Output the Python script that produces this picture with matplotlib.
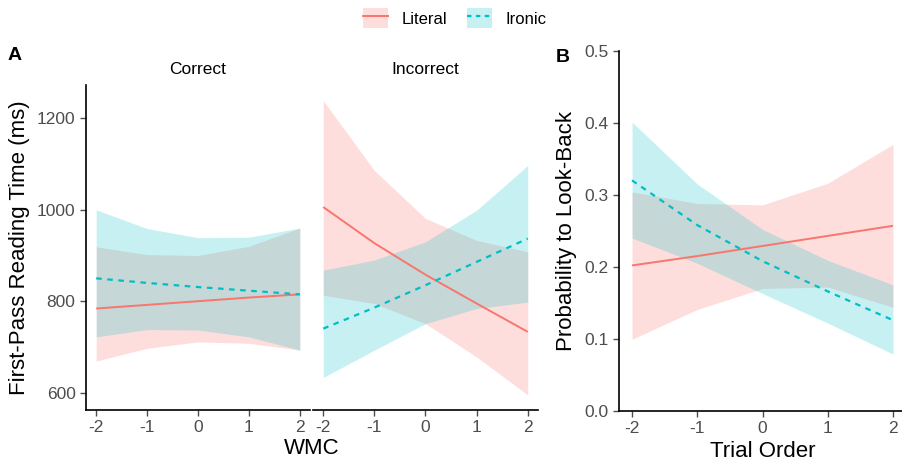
import numpy as np
import matplotlib.pyplot as plt
from matplotlib.patches import Patch
from matplotlib.lines import Line2D

plt.rcParams['font.family'] = ['Liberation Sans', 'DejaVu Sans']

# predictor values
x = [-2, -1, 0, 1, 2]

# Panel A, Correct facet (first-pass reading time, ms)
cor_lit = [784, 792, 800, 808, 815]
cor_lit_lo = [669, 697, 711, 708, 693]
cor_lit_hi = [919, 902, 900, 920, 960]
cor_iro = [850, 840, 831, 823, 815]
cor_iro_lo = [722, 738, 737, 722, 693]
cor_iro_hi = [1000, 959, 939, 940, 960]

# Panel A, Incorrect facet
inc_lit = [1006, 927, 858, 795, 733]
inc_lit_lo = [813, 795, 751, 678, 595]
inc_lit_hi = [1239, 1086, 981, 933, 908]
inc_iro = [740, 786, 835, 886, 937]
inc_iro_lo = [633, 693, 751, 784, 798]
inc_iro_hi = [868, 890, 930, 999, 1097]

# Panel B, probability to look back
b_lit = [0.202, 0.215, 0.229, 0.243, 0.257]
b_lit_lo = [0.0995, 0.141, 0.170, 0.172, 0.144]
b_lit_hi = [0.304, 0.288, 0.286, 0.316, 0.370]
b_iro = [0.320, 0.258, 0.208, 0.166, 0.126]
b_iro_lo = [0.240, 0.205, 0.163, 0.122, 0.079]
b_iro_hi = [0.401, 0.315, 0.252, 0.209, 0.175]

RED = '#F8766D'
TEAL = '#00BFC4'
GREY = '#4D4D4D'

fig = plt.figure(figsize=(9.03, 4.61), dpi=100)
W, H = 903.0, 461.0

def make_ax(l, r, b, t):
    return fig.add_axes([l / W, 1 - b / H, (r - l) / W, (b - t) / H])

ax1 = make_ax(86, 310, 410, 85)
ax2 = make_ax(313, 538, 410, 85)
ax3 = make_ax(619, 906, 411, 50.7)


def draw(ax, lit, lo1, hi1, iro, lo2, hi2):
    ax.fill_between(x, lo1, hi1, color=RED, alpha=0.24, lw=0)
    ax.fill_between(x, lo2, hi2, color=TEAL, alpha=0.22, lw=0)
    ax.plot(x, lit, color=RED, lw=1.4, solid_capstyle='butt')
    ax.plot(x, iro, color=TEAL, lw=1.6, ls=(0, (2.5, 2.5)))


def style(ax, yaxis=True):
    for s in ['top', 'right']:
        ax.spines[s].set_visible(False)
    ax.spines['bottom'].set_linewidth(1.2)
    ax.spines['left'].set_linewidth(1.2)
    ax.set_xlim(-2.2, 2.2)
    ax.set_xticks(x)
    ax.set_xticklabels(['-2', '-1', '0', '1', '2'])
    ax.tick_params(colors=GREY, labelsize=12.5, length=4, width=1.0,
                   labelcolor=GREY)
    if not yaxis:
        ax.spines['left'].set_visible(False)
        ax.tick_params(axis='y', left=False, labelleft=False)


draw(ax1, cor_lit, cor_lit_lo, cor_lit_hi, cor_iro, cor_iro_lo, cor_iro_hi)
draw(ax2, inc_lit, inc_lit_lo, inc_lit_hi, inc_iro, inc_iro_lo, inc_iro_hi)
draw(ax3, b_lit, b_lit_lo, b_lit_hi, b_iro, b_iro_lo, b_iro_hi)

for ax in (ax1, ax2):
    ax.set_ylim(562, 1273)
    ax.set_yticks([600, 800, 1000, 1200])
style(ax1)
style(ax2, yaxis=False)
style(ax3)
ax3.set_ylim(0, 0.5)
ax3.set_yticks([0.0, 0.1, 0.2, 0.3, 0.4, 0.5])
ax3.set_yticklabels(['0.0', '0.1', '0.2', '0.3', '0.4', '0.5'])

ax1.set_ylabel('First-Pass Reading Time (ms)', fontsize=16, labelpad=5)
ax3.set_ylabel('Probability to Look-Back', fontsize=16, labelpad=5)
fig.text(312 / W, 1 - 448 / H, 'WMC', fontsize=16, ha='center', va='center')
ax3.set_xlabel('Trial Order', fontsize=16, labelpad=3)

ax1.set_title('Correct', fontsize=12.5, pad=8)
ax2.set_title('Incorrect', fontsize=12.5, pad=8)

fig.text(15 / W, 1 - 55 / H, 'A', fontsize=14, fontweight='bold', ha='center', va='center')
fig.text(563 / W, 1 - 57 / H, 'B', fontsize=14, fontweight='bold', ha='center', va='center')

h_lit = (Patch(facecolor=RED, alpha=0.24, lw=0), Line2D([], [], color=RED, lw=1.4))
h_iro = (Patch(facecolor=TEAL, alpha=0.22, lw=0), Line2D([], [], color=TEAL, lw=1.6, ls=(0, (2, 2))))
fig.legend([h_lit, h_iro], ['Literal', 'Ironic'], loc='center', ncol=2,
           bbox_to_anchor=(455 / W, 1 - 18 / H), frameon=False, fontsize=12,
           handlelength=1.5, handleheight=1.4, columnspacing=1.2, handletextpad=0.8)

plt.savefig('out.png', dpi=100)
